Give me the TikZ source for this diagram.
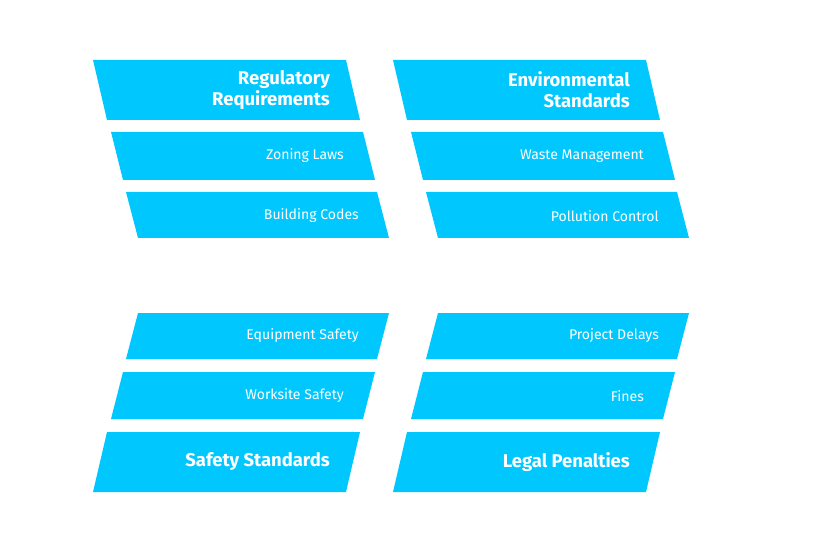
\documentclass[tikz,border=0pt]{standalone}
\usepackage{fontspec}
\setmainfont{Fira Sans}
\definecolor{bandcyan}{HTML}{00C8FF}
\tikzset{
  band/.style={fill=bandcyan},
  headtxt/.style={anchor=east, text=white, font=\bfseries\fontsize{10.5}{12}\selectfont, align=right},
  itemtxt/.style={anchor=east, text=white, font=\fontsize{8}{9.5}\selectfont}
}
\begin{document}
\begin{tikzpicture}[x=0.02cm, y=-0.02cm]
    \useasboundingbox (0,0) rectangle (834,540);
    % bands: top groups slant down-right, bottom groups slant up-right
    \foreach \dx in {0,300} {
      \fill[band] (93+\dx,60) -- (346+\dx,60) -- (360+\dx,120) -- (107+\dx,120) -- cycle;
      \fill[band] (111+\dx,132) -- (363+\dx,132) -- (375+\dx,180) -- (123+\dx,180) -- cycle;
      \fill[band] (126+\dx,192) -- (377+\dx,192) -- (389+\dx,238) -- (138+\dx,238) -- cycle;
      \fill[band] (138+\dx,313) -- (389+\dx,313) -- (377+\dx,359) -- (126+\dx,359) -- cycle;
      \fill[band] (123+\dx,372) -- (375+\dx,372) -- (363+\dx,419) -- (111+\dx,419) -- cycle;
      \fill[band] (107+\dx,432) -- (360+\dx,432) -- (346+\dx,492) -- (93+\dx,492) -- cycle;
    }
    % labels
    \node[headtxt] (reg) at (336,90) {Regulatory\\Requirements};
    \node[itemtxt] (zon) at (350,156) {Zoning Laws};
    \node[itemtxt] (bld) at (365,216) {Building Codes};
    \node[headtxt] (env) at (636,90) {Environmental\\Standards};
    \node[itemtxt] (wst) at (650,156) {Waste Management};
    \node[itemtxt] (pol) at (665,216) {Pollution Control};
    \node[itemtxt] (eqp) at (365,336) {Equipment Safety};
    \node[itemtxt] (wrk) at (350,396) {Worksite Safety};
    \node[headtxt] (saf) at (336,462) {Safety Standards};
    \node[itemtxt] (dly) at (665,336) {Project Delays};
    \node[itemtxt] (fin) at (650,396) {Fines};
    \node[headtxt] (pen) at (636,462) {Legal Penalties};
\end{tikzpicture}
\end{document}
